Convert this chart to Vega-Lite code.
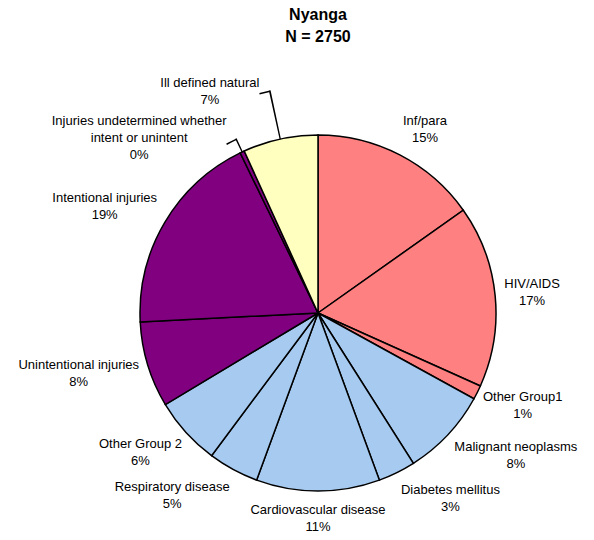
{
  "$schema": "https://vega.github.io/schema/vega-lite/v6.json",
  "autosize": {"type": "none"},
  "width": 420,
  "height": 440,
  "padding": {"left": 108, "top": 93, "right": 66, "bottom": 7},
  "config": {"view": {"stroke": null}, "font": "Arial, Liberation Sans"},
  "title": {
    "text": ["Nyanga", "N = 2750"],
    "fontSize": 16,
    "fontWeight": "bold",
    "font": "Arial, Liberation Sans",
    "color": "#000",
    "anchor": "middle",
    "frame": "group",
    "lineHeight": 21.5,
    "offset": 32
  },
  "data": {
    "values": [
      {"order": 1, "name": "Inf/para", "group": "Group 1", "pct": 0.152},
      {"order": 2, "name": "HIV/AIDS", "group": "Group 1", "pct": 0.1652},
      {"order": 3, "name": "Other Group1", "group": "Group 1", "pct": 0.0128},
      {"order": 4, "name": "Malignant neoplasms", "group": "Group 2", "pct": 0.08},
      {"order": 5, "name": "Diabetes mellitus", "group": "Group 2", "pct": 0.034},
      {"order": 6, "name": "Cardiovascular disease", "group": "Group 2", "pct": 0.112},
      {"order": 7, "name": "Respiratory disease", "group": "Group 2", "pct": 0.046},
      {"order": 8, "name": "Other Group 2", "group": "Group 2", "pct": 0.062},
      {"order": 9, "name": "Unintentional injuries", "group": "Injuries", "pct": 0.078},
      {"order": 10, "name": "Intentional injuries", "group": "Injuries", "pct": 0.186},
      {"order": 11, "name": "Injuries undetermined whether|intent or unintent", "group": "Injuries", "pct": 0.004},
      {"order": 12, "name": "Ill defined natural", "group": "Ill defined", "pct": 0.068}
    ]
  },
  "transform": [
    {"window": [{"op": "sum", "field": "pct", "as": "cum"}], "sort": [{"field": "order"}], "frame": [null, 0]},
    {"calculate": "datum.cum - datum.pct / 2", "as": "mid"},
    {"calculate": "datum.name + '|' + format(datum.pct, '.0%')", "as": "label"},
    {"calculate": "split(datum.name, '|')[0]", "as": "line1"},
    {"calculate": "3.3 * length(replace(datum.line1, regexp('[^Iijlft /r]', 'g'), '')) + 8.8 * length(replace(datum.line1, regexp('[^A-HJ-LN-VX-Z]', 'g'), '')) + 10.5 * length(replace(datum.line1, regexp('[^mwMW]', 'g'), '')) + 7 * length(replace(datum.line1, regexp('[Iijlft /rA-Zmw]', 'g'), ''))", "as": "w"},
    {"calculate": "length(split(datum.label, '|'))", "as": "nl"}
  ],
  "layer": [
    {
      "mark": {"type": "arc", "radius": 178, "stroke": "#000", "strokeWidth": 1.5},
      "encoding": {
        "theta": {"field": "pct", "type": "quantitative", "stack": true, "scale": {"domain": [0, 1]}},
        "order": {"field": "order", "type": "quantitative"},
        "color": {
          "field": "group",
          "type": "nominal",
          "scale": {
            "domain": ["Group 1", "Group 2", "Injuries", "Ill defined"],
            "range": ["#FF8080", "#A6CAF0", "#800080", "#FFFFC0"]
          },
          "legend": null
        }
      }
    },
    {
      "transform": [{"filter": "datum.order < 11"}],
      "mark": {
        "type": "text",
        "radius": 188,
        "fontSize": 13,
        "color": "#000",
        "lineBreak": "|",
        "lineHeight": 17,
        "align": "center",
        "baseline": "middle",
        "dx": {"expr": "datum.w / 2 * clamp(2.5 * sin(2 * PI * datum.mid), -1, 1)"},
        "dy": {"expr": "-datum.nl * 8.5 * clamp(1.2 * cos(2 * PI * datum.mid), -1, 1) - (datum.nl - 1) * 8.5"}
      },
      "encoding": {
        "theta": {"field": "mid", "type": "quantitative", "stack": null, "scale": {"domain": [0, 1]}},
        "text": {"field": "label", "type": "nominal"}
      }
    },
    {
      "transform": [
        {"filter": "datum.order == 12"},
        {"calculate": "datum.mid - 0.0006", "as": "l0"},
        {"calculate": "datum.mid + 0.0006", "as": "l1"},
        {"calculate": "datum.mid - 0.0075", "as": "t0"}
      ],
      "layer": [
        {
          "mark": {"type": "arc", "radius": 227.7, "radius2": 178, "color": "#000"},
          "encoding": {
            "theta": {"field": "l0", "type": "quantitative", "scale": {"domain": [0, 1]}},
            "theta2": {"field": "l1"}
          }
        },
        {
          "mark": {"type": "arc", "radius": 227.7, "radius2": 226.2, "color": "#000"},
          "encoding": {
            "theta": {"field": "t0", "type": "quantitative", "scale": {"domain": [0, 1]}},
            "theta2": {"field": "mid"}
          }
        },
        {
          "mark": {
            "type": "text",
            "radius": 227,
            "fontSize": 13,
            "color": "#000",
            "lineBreak": "|",
            "lineHeight": 17,
            "align": "center",
            "baseline": "middle",
            "dx": {"expr": "-datum.w / 2 - 12"},
            "dy": {"expr": "-(datum.nl - 1) * 8.5"}
          },
          "encoding": {
            "theta": {"field": "mid", "type": "quantitative", "stack": null, "scale": {"domain": [0, 1]}},
            "text": {"field": "label", "type": "nominal"}
          }
        }
      ]
    },
    {
      "transform": [
        {"filter": "datum.order == 11"},
        {"calculate": "datum.mid - 0.0006", "as": "l0"},
        {"calculate": "datum.mid + 0.0006", "as": "l1"},
        {"calculate": "datum.mid - 0.009", "as": "t0"}
      ],
      "layer": [
        {
          "mark": {"type": "arc", "radius": 192.7, "radius2": 178, "color": "#000"},
          "encoding": {
            "theta": {"field": "l0", "type": "quantitative", "scale": {"domain": [0, 1]}},
            "theta2": {"field": "l1"}
          }
        },
        {
          "mark": {"type": "arc", "radius": 192.7, "radius2": 191.2, "color": "#000"},
          "encoding": {
            "theta": {"field": "t0", "type": "quantitative", "scale": {"domain": [0, 1]}},
            "theta2": {"field": "mid"}
          }
        },
        {
          "mark": {
            "type": "text",
            "radius": 193,
            "fontSize": 13,
            "color": "#000",
            "lineBreak": "|",
            "lineHeight": 17,
            "align": "center",
            "baseline": "middle",
            "dx": {"expr": "-datum.w / 2 - 12"},
            "dy": {"expr": "-(datum.nl - 1) * 8.5"}
          },
          "encoding": {
            "theta": {"field": "mid", "type": "quantitative", "stack": null, "scale": {"domain": [0, 1]}},
            "text": {"field": "label", "type": "nominal"}
          }
        }
      ]
    }
  ]
}
